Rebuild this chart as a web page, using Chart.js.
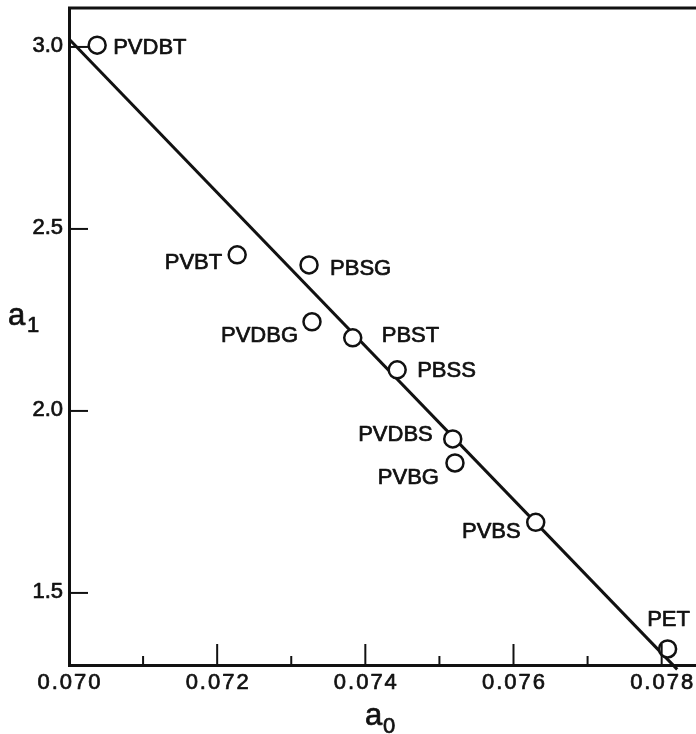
<!DOCTYPE html>
<html>
<head>
<meta charset="utf-8">
<script src="https://cdn.jsdelivr.net/npm/chart.js"></script>
<style>
    html, body { margin: 0; padding: 0; background: #fff; }
    #plot { display: block; }
</style>
</head>
<body>
<canvas id="plot" width="696" height="734"></canvas>
<script>
const polymers = ['PVDBT', 'PVBT', 'PBSG', 'PVDBG', 'PBST', 'PBSS', 'PVDBS', 'PVBG', 'PVBS', 'PET'];
const a0Values = [0.07038, 0.07227, 0.07324, 0.07328, 0.07383, 0.07443, 0.07518, 0.07521, 0.07630, 0.07808];
const a1Values = [3.005, 2.429, 2.401, 2.245, 2.201, 2.113, 1.923, 1.857, 1.694, 1.346];

const fitA0 = [0.0700, 0.07821];
const fitA1 = [3.022, 1.290];

const xMajorTicks = [0.070, 0.072, 0.074, 0.076, 0.078];
const xMinorTicks = [0.071, 0.073, 0.075, 0.077];
const yTicks = [1.5, 2.0, 2.5, 3.0];

// where each name sits relative to its circle
const labelPlacement = {
    PVDBT: [16, 3, 'left'],
    PVBT: [-15, 8, 'right'],
    PBSG: [21, 4, 'left'],
    PVDBG: [-14, 14, 'right'],
    PBST: [29, -2, 'left'],
    PBSS: [20, 1, 'left'],
    PVDBS: [-20, -4, 'right'],
    PVBG: [-16, 15, 'right'],
    PVBS: [-15, 10, 'right'],
    PET: [1, -29, 'center']
};

const FONT = '"Liberation Sans", Arial, Helvetica, sans-serif';
const INK = '#111';

// fill plus a thin outline, the scanned lettering is a bit heavier than regular
function inkText(ctx, str, x, y) {
    ctx.fillText(str, x, y);
    ctx.strokeText(str, x, y);
}

const framePlugin = {
    id: 'frame',
    afterDraw(chart) {
        const ctx = chart.ctx;
        const area = chart.chartArea;
        const xs = chart.scales.x;
        const ys = chart.scales.y;

        ctx.save();
        ctx.strokeStyle = INK;
        ctx.fillStyle = INK;

        // top border
        ctx.lineWidth = 3;
        ctx.beginPath();
        ctx.moveTo(area.left - 1, area.top);
        ctx.lineTo(chart.width, area.top);
        ctx.stroke();

        // inward tick marks
        ctx.lineWidth = 2;
        xMajorTicks.forEach(v => {
            const px = xs.getPixelForValue(v);
            ctx.beginPath();
            ctx.moveTo(px, area.bottom);
            ctx.lineTo(px, area.bottom - 21);
            ctx.stroke();
        });
        xMinorTicks.forEach(v => {
            const px = xs.getPixelForValue(v);
            ctx.beginPath();
            ctx.moveTo(px, area.bottom);
            ctx.lineTo(px, area.bottom - 9);
            ctx.stroke();
        });
        yTicks.forEach(v => {
            const py = ys.getPixelForValue(v);
            ctx.beginPath();
            ctx.moveTo(area.left, py);
            ctx.lineTo(area.left + 19, py);
            ctx.stroke();
        });

        ctx.lineWidth = 0.7;
        ctx.lineJoin = 'round';

        // tick labels
        ctx.font = '22px ' + FONT;
        ctx.letterSpacing = '2px';
        ctx.textAlign = 'center';
        ctx.textBaseline = 'middle';
        xMajorTicks.forEach(v => {
            inkText(ctx, v.toFixed(3), xs.getPixelForValue(v) + 1, area.bottom + 18);
        });
        ctx.letterSpacing = '0px';
        ctx.textAlign = 'right';
        yTicks.forEach(v => {
            inkText(ctx, v.toFixed(1), area.left - 6, ys.getPixelForValue(v) - 1);
        });

        // point names
        polymers.forEach((name, i) => {
            const p = labelPlacement[name];
            ctx.textAlign = p[2];
            inkText(ctx, name, xs.getPixelForValue(a0Values[i]) + p[0], ys.getPixelForValue(a1Values[i]) + p[1]);
        });

        // axis titles with subscripts
        ctx.textAlign = 'left';
        ctx.textBaseline = 'alphabetic';
        const cx = (area.left + area.right) / 2;
        ctx.font = '31px ' + FONT;
        inkText(ctx, 'a', cx - 17, 725);
        ctx.font = '22px ' + FONT;
        inkText(ctx, '0', cx + 1, 733);

        ctx.font = '31px ' + FONT;
        inkText(ctx, 'a', 8, 325);
        ctx.font = '22px ' + FONT;
        inkText(ctx, '1', 27, 332);
        ctx.restore();
    }
};

const ctx = document.getElementById('plot').getContext('2d');
const chart = new Chart(ctx, {
    data: {
        datasets: [{
            type: 'scatter',
            data: a0Values.map((v, i) => ({ x: v, y: a1Values[i] })),
            pointRadius: 8.5,
            pointHoverRadius: 8.5,
            pointBorderWidth: 2.5,
            pointBackgroundColor: '#fff',
            pointBorderColor: INK,
            clip: false,
            order: 1
        }, {
            type: 'line',
            data: fitA0.map((v, i) => ({ x: v, y: fitA1[i] })),
            borderColor: INK,
            borderWidth: 3,
            pointRadius: 0,
            fill: false,
            clip: false,
            order: 2
        }]
    },
    options: {
        responsive: false,
        animation: false,
        devicePixelRatio: 1,
        layout: {
            autoPadding: false,
            padding: { top: 8, right: 1, left: 0, bottom: 0 }
        },
        plugins: {
            legend: { display: false },
            tooltip: { enabled: false }
        },
        events: [],
        scales: {
            x: {
                type: 'linear',
                min: 0.070,
                max: 0.07845,
                grid: { display: false, drawTicks: false },
                border: { display: true, color: INK, width: 3 },
                ticks: { display: false },
                afterFit: scale => { scale.height = 69; }
            },
            y: {
                type: 'linear',
                min: 1.302,
                max: 3.107,
                grid: { display: false, drawTicks: false },
                border: { display: true, color: INK, width: 3 },
                ticks: { display: false },
                afterFit: scale => { scale.width = 69; }
            }
        }
    },
    plugins: [framePlugin]
});
</script>
</body>
</html>
